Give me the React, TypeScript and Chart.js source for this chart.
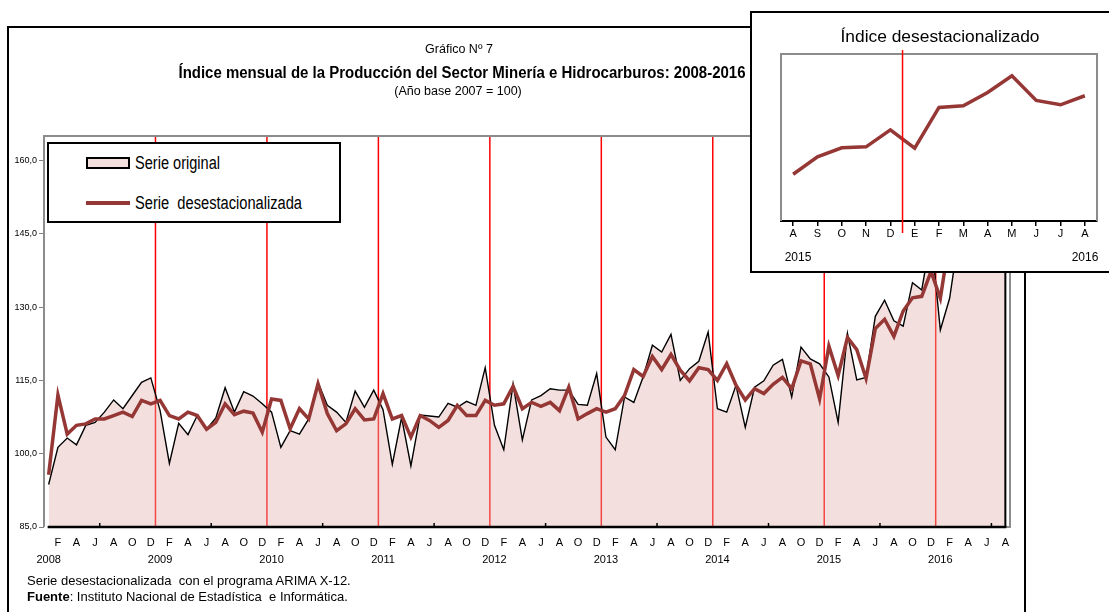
import React, { useEffect, useRef } from 'react';
import { Chart, registerables } from 'chart.js';

Chart.register(...registerables);

// ---------------- DATA ----------------
const years = ['2008', '2009', '2010', '2011', '2012', '2013', '2014', '2015', '2016'];
const monthLetters = ['', 'F', '', 'A', '', 'J', '', 'A', '', 'O', '', 'D'];

const original = [
  93.7, 101.3, 103.2, 101.8, 105.8, 106.4, 108.5, 111.0, 109.2, 111.9, 114.6, 115.5,
  108.8, 98.0, 106.2, 103.9, 107.8, 105.0, 107.3, 113.5, 108.5, 112.7, 111.8, 110.2,
  108.5, 101.3, 104.7, 104.0, 107.1, 114.6, 109.9, 108.5, 106.4, 112.8, 109.5, 113.0,
  109.0, 97.8, 107.4, 97.5, 107.9, 107.7, 107.5, 110.3, 109.5, 110.7, 109.9, 117.6,
  105.8, 100.8, 114.3, 102.8, 111.0, 111.9, 113.3, 113.0, 113.0, 110.1, 109.9, 116.4,
  103.4, 100.8, 111.6, 110.5, 115.7, 122.2, 120.8, 124.4, 115.0, 117.4, 118.9, 124.9,
  109.2, 108.5, 114.0, 105.4, 113.6, 114.9, 118.1, 119.3, 111.6, 121.8, 119.4, 118.4,
  115.7, 106.4, 124.6, 115.1, 115.6, 128.1, 131.4, 127.2, 126.1, 135.0, 133.5, 144.6,
  125.3, 131.8, 144.7, 142.2, 153.5, 148.3, 148.4, 150.7,
];

const deseasonalized = [
  95.7, 112.0, 104.0, 105.8, 106.1, 107.1, 107.1, 107.8, 108.5, 107.6, 110.9, 110.2,
  110.9, 107.8, 107.1, 108.5, 107.8, 105.0, 106.4, 110.2, 108.0, 108.7, 108.3, 104.4,
  111.2, 110.9, 105.1, 109.2, 107.1, 114.3, 108.2, 104.7, 106.1, 109.2, 106.9, 107.1,
  112.3, 107.1, 107.8, 103.4, 107.8, 106.8, 105.4, 106.8, 109.9, 107.8, 107.8, 110.9,
  109.9, 110.2, 113.8, 109.2, 110.5, 109.7, 110.5, 108.8, 113.6, 107.1, 108.2, 109.2,
  108.5, 109.2, 111.9, 117.2, 115.8, 119.9, 117.2, 120.3, 117.1, 114.9, 117.6, 117.2,
  115.0, 118.4, 114.0, 111.0, 113.3, 112.3, 114.2, 115.6, 113.3, 119.0, 118.4, 111.2,
  122.0, 116.0, 123.8, 121.3, 115.4, 125.6, 127.5, 124.0, 129.2, 131.9, 132.2, 137.3,
  131.8, 144.0, 144.5, 148.5, 153.5, 146.1, 144.8, 147.5,
];

const yTicks = [85, 100, 115, 130, 145, 160];

const insetLabels = ['A', 'S', 'O', 'N', 'D', 'E', 'F', 'M', 'A', 'M', 'J', 'J', 'A'];
const insetYears = ['2015', '2016'];
const insetStartIndex = 91; // Aug 2015

// ---------------- STYLE ----------------
const SANS = "'Liberation Sans', Arial, sans-serif";
const DARK_RED = '#953735';
const FILL = 'rgba(225,177,172,0.4)';
const FILL_SOLID = 'rgb(243,224,222)';

function buildLabels(): (string | string[])[] {
  return original.map((_, i) => {
    const m = i % 12;
    if (m === 0) return ['', years[Math.floor(i / 12)]];
    return monthLetters[m];
  });
}

let measureCtx: CanvasRenderingContext2D | null = null;
function measure(text: string, size: number, weight: number | string, family: string): number {
  if (!measureCtx) {
    measureCtx = document.createElement('canvas').getContext('2d');
  }
  if (!measureCtx) return 0;
  measureCtx.font = `${weight} ${size}px ${family}`;
  return measureCtx.measureText(text).width;
}

const mainDecor = {
  id: 'mainDecor',
  beforeDatasetsDraw(chart: any) {
    const { ctx, chartArea: a, scales } = chart;
    const x = scales.x;
    ctx.save();
    ctx.strokeStyle = '#ff0000';
    ctx.lineWidth = 1.5;
    for (let k = 1; k < years.length; k++) {
      const px = x.getPixelForValue(k * 12 - 0.5);
      ctx.beginPath();
      ctx.moveTo(px, a.top);
      ctx.lineTo(px, a.bottom);
      ctx.stroke();
    }
    ctx.restore();
  },
  afterDatasetsDraw(chart: any) {
    const { ctx, chartArea: a, scales } = chart;
    const x = scales.x;
    const y = scales.y;
    const last = original.length - 1;
    const lx = x.getPixelForValue(last);
    const ly = y.getPixelForValue(original[last]);
    const fx = x.getPixelForValue(0);
    ctx.save();
    ctx.strokeStyle = '#8c8c8c';
    ctx.lineWidth = 2;
    ctx.beginPath();
    ctx.moveTo(a.left, a.bottom);
    ctx.lineTo(a.left, a.top);
    ctx.lineTo(a.right, a.top);
    ctx.lineTo(a.right, a.bottom);
    ctx.lineTo(lx, a.bottom);
    ctx.stroke();
    ctx.strokeStyle = '#000';
    ctx.lineWidth = 2;
    ctx.beginPath();
    ctx.moveTo(lx, ly);
    ctx.lineTo(lx, a.bottom);
    ctx.stroke();
    ctx.lineWidth = 2.5;
    ctx.beginPath();
    ctx.moveTo(fx - 1, a.bottom);
    ctx.lineTo(lx + 1, a.bottom);
    ctx.stroke();
    ctx.lineWidth = 1.5;
    for (let k = 0; k < years.length; k++) {
      const v = k * 12 + 5.5;
      if (v > last) break;
      const px = x.getPixelForValue(v);
      ctx.beginPath();
      ctx.moveTo(px, a.bottom);
      ctx.lineTo(px, a.bottom - 4);
      ctx.stroke();
    }
    ctx.restore();
  },
};

const insetDecor = {
  id: 'insetDecor',
  beforeDatasetsDraw(chart: any) {
    const { ctx, chartArea: a } = chart;
    ctx.save();
    ctx.strokeStyle = '#8c8c8c';
    ctx.lineWidth = 2;
    ctx.beginPath();
    ctx.moveTo(a.left, a.bottom);
    ctx.lineTo(a.left, a.top);
    ctx.lineTo(a.right, a.top);
    ctx.lineTo(a.right, a.bottom);
    ctx.stroke();
    ctx.restore();
  },
  afterDraw(chart: any) {
    const { ctx, chartArea: a, scales } = chart;
    const x = scales.x;
    const px = x.getPixelForValue(4.5);
    ctx.save();
    ctx.strokeStyle = '#ff0000';
    ctx.lineWidth = 1.5;
    ctx.beginPath();
    ctx.moveTo(px, a.top - 4);
    ctx.lineTo(px, a.bottom + 12);
    ctx.stroke();
    ctx.restore();
  },
};

type TextProps = {
  x: number;
  y: number;
  size: number;
  family?: string;
  weight?: number | string;
  align?: 'left' | 'center';
  fitWidth?: number;
  text?: string;
  children?: React.ReactNode;
};

function Txt({ x, y, size, family = SANS, weight = 400, align = 'left', fitWidth, text, children }: TextProps) {
  const lh = Math.round(size * 1.3);
  let scale = 1;
  if (fitWidth && text) {
    const w = measure(text, size, weight, family);
    if (w > 0) scale = fitWidth / w;
  }
  const style: React.CSSProperties = {
    position: 'absolute',
    top: y - lh / 2,
    fontSize: size,
    lineHeight: lh + 'px',
    fontFamily: family,
    fontWeight: weight as any,
    whiteSpace: 'pre',
    color: '#000',
  };
  if (align === 'center') {
    style.left = x - 500;
    style.width = 1000;
    style.textAlign = 'center';
    style.transform = `scaleX(${scale})`;
    style.transformOrigin = '500px 50%';
  } else {
    style.left = x;
    style.transform = `scaleX(${scale})`;
    style.transformOrigin = '0 50%';
  }
  return <div style={style}>{text ?? children}</div>;
}

export default function App() {
  const mainRef = useRef<HTMLCanvasElement>(null);
  const insetRef = useRef<HTMLCanvasElement>(null);

  useEffect(() => {
    const labels = buildLabels();
    const main = new Chart(mainRef.current as HTMLCanvasElement, {
      type: 'line',
      data: {
        labels,
        datasets: [
          {
            label: 'Serie  desestacionalizada',
            data: deseasonalized,
            borderColor: DARK_RED,
            borderWidth: 3.5,
            pointRadius: 0,
            fill: false,
            tension: 0,
          },
          {
            label: 'Serie original',
            data: original,
            borderColor: '#000',
            borderWidth: 1.4,
            pointRadius: 0,
            fill: 'start',
            backgroundColor: FILL,
            tension: 0,
          },
        ],
      },
      options: {
        responsive: false,
        animation: false,
        devicePixelRatio: 1,
        layout: { padding: { left: 0, top: 136, right: 99, bottom: 35 } },
        plugins: {
          legend: { display: false },
          tooltip: { enabled: false },
          title: { display: false },
        },
        scales: {
          x: {
            type: 'category',
            offset: true,
            grid: { display: false, drawTicks: false },
            border: { display: false },
            ticks: {
              autoSkip: false,
              maxRotation: 0,
              minRotation: 0,
              padding: 7.5,
              color: '#000',
              font: { family: SANS, size: 11, lineHeight: 1.55 },
            },
            afterFit: (s: any) => {
              s.height = 50;
            },
          },
          y: {
            min: 85,
            max: 165,
            afterBuildTicks: (s: any) => {
              s.ticks = yTicks.map((v) => ({ value: v }));
            },
            grid: { drawOnChartArea: false, drawTicks: true, tickLength: 5, color: '#808080', lineWidth: 1 },
            border: { display: false },
            ticks: {
              padding: 2,
              color: '#000',
              font: { family: SANS, size: 9 },
              callback: (v: any) => Number(v).toFixed(1).replace('.', ','),
            },
            afterFit: (s: any) => {
              s.width = 44;
            },
          },
        },
      },
      plugins: [mainDecor],
    } as any);

    const inset = new Chart(insetRef.current as HTMLCanvasElement, {
      type: 'line',
      data: {
        labels: insetLabels,
        datasets: [
          {
            label: 'Índice desestacionalizado',
            data: deseasonalized.slice(insetStartIndex),
            borderColor: DARK_RED,
            borderWidth: 3.5,
            pointRadius: 0,
            fill: false,
            tension: 0,
          },
        ],
      },
      options: {
        responsive: false,
        animation: false,
        devicePixelRatio: 1,
        layout: { padding: { left: 29, top: 41, right: 12, bottom: 19 } },
        plugins: {
          legend: { display: false },
          tooltip: { enabled: false },
          title: { display: false },
        },
        scales: {
          x: {
            type: 'category',
            offset: true,
            grid: { display: true, drawOnChartArea: false, drawTicks: true, tickLength: 5, color: '#000', lineWidth: 1.5 },
            border: { display: true, color: '#000', width: 2 },
            ticks: {
              autoSkip: false,
              maxRotation: 0,
              minRotation: 0,
              padding: 1,
              color: '#000',
              font: { family: SANS, size: 11 },
            },
            afterFit: (s: any) => {
              s.height = 30;
            },
          },
          y: { display: false, min: 110, max: 160 },
        },
      },
      plugins: [insetDecor],
    } as any);

    return () => {
      main.destroy();
      inset.destroy();
    };
  }, []);

  return (
    <div
      style={{
        position: 'fixed',
        left: 0,
        top: 0,
        width: 1109,
        height: 612,
        overflow: 'hidden',
        background: '#fff',
      }}
    >
      <div
        style={{
          position: 'absolute',
          left: 7,
          top: 26,
          width: 1019,
          height: 700,
          border: '2px solid #000',
          boxSizing: 'border-box',
        }}
      />
      <canvas ref={mainRef} width={1109} height={612} style={{ position: 'absolute', left: 0, top: 0 }} />

      <Txt x={459} y={49} size={12.5} align="center" text="Gráfico Nº 7" />
      <Txt
        x={461.5}
        y={72}
        size={16}
        weight={700}
        align="center"
        fitWidth={567}
        text="Índice mensual de la Producción del Sector Minería e Hidrocarburos: 2008-2016"
      />
      <Txt x={458} y={91} size={12.5} align="center" text="(Año base 2007 = 100)" />

      <div
        style={{
          position: 'absolute',
          left: 47,
          top: 142,
          width: 294,
          height: 81,
          border: '2px solid #000',
          background: '#fff',
          boxSizing: 'border-box',
        }}
      />
      <div
        style={{
          position: 'absolute',
          left: 86,
          top: 157,
          width: 44,
          height: 12,
          background: FILL_SOLID,
          border: '2px solid #000',
          boxSizing: 'border-box',
        }}
      />
      <Txt x={135} y={163} size={18} fitWidth={85} text="Serie original" />
      <div style={{ position: 'absolute', left: 86, top: 201, width: 44, height: 4, background: DARK_RED }} />
      <Txt x={135} y={203} size={18} fitWidth={167} text="Serie  desestacionalizada" />

      <Txt x={27} y={580} size={13} text="Serie desestacionalizada  con el programa ARIMA X-12." />
      <Txt x={27} y={596} size={13}>
        <b>Fuente</b>: Instituto Nacional de Estadística  e Informática.
      </Txt>

      <div
        style={{
          position: 'absolute',
          left: 750,
          top: 11,
          width: 420,
          height: 262,
          border: '2px solid #000',
          background: '#fff',
          boxSizing: 'border-box',
        }}
      >
        <canvas ref={insetRef} width={357} height={257} style={{ position: 'absolute', left: 0, top: 0 }} />
      </div>
      <Txt x={940} y={37} size={17} align="center" fitWidth={199} text="Índice desestacionalizado" />
      <Txt x={798} y={257} size={12} align="center" text={insetYears[0]} />
      <Txt x={1085} y={257} size={12} align="center" text={insetYears[1]} />
    </div>
  );
}
